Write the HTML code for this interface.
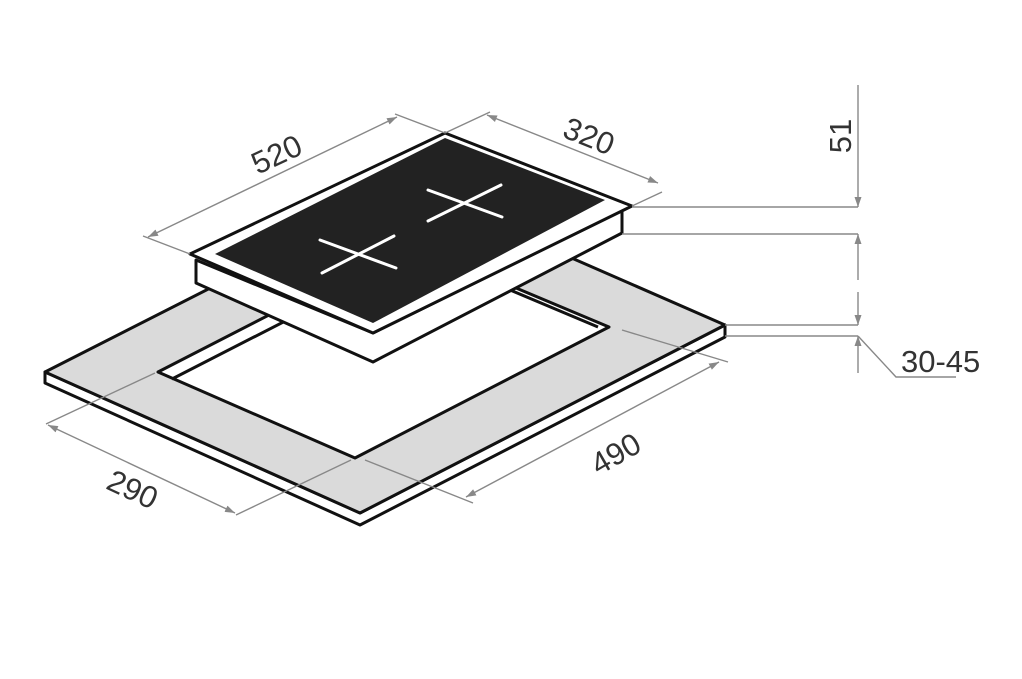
<!DOCTYPE html>
<html><head><meta charset="utf-8"><style>html,body{margin:0;padding:0;background:#fff}svg{display:block}</style></head>
<body>
<svg width="1022" height="679" viewBox="0 0 1022 679" xmlns="http://www.w3.org/2000/svg" font-family="Liberation Sans, sans-serif">
<defs>
<marker id="a" viewBox="0 0 10 10" refX="10" refY="5" markerWidth="10" markerHeight="10" orient="auto-start-reverse" markerUnits="userSpaceOnUse"><path d="M0,1.5 L10,5 L0,8.5 z" fill="#888"/></marker>
</defs>
<polygon points="45,372 360,513 725,325 725,337 360,525 45,383" fill="#fff" stroke="#111" stroke-width="3" stroke-linejoin="round"/>
<polygon points="45,372 409,187 725,325 360,513" fill="#dadada" stroke="#111" stroke-width="3" stroke-linejoin="round"/>
<polygon points="158,372 409,243 609,327 355,458" fill="#fff" stroke="#111" stroke-width="3" stroke-linejoin="round"/>
<polyline points="172,379 420,252 598,327" fill="none" stroke="#111" stroke-width="3"/>
<polygon points="196,260 196,283 373,362 622,233 622,210 373,333" fill="#fff" stroke="#111" stroke-width="3" stroke-linejoin="round"/>
<polygon points="190,254 445,133 632,206 373,333" fill="#fff" stroke="#111" stroke-width="3" stroke-linejoin="round"/>
<polygon points="215,254 445,138 605,200 373,323" fill="#222"/>
<g stroke="#fff" stroke-width="3" stroke-linecap="round">
<line x1="428" y1="190" x2="502" y2="217"/><line x1="428" y1="221" x2="501" y2="185"/>
<line x1="320" y1="240" x2="396" y2="268"/><line x1="322" y1="273" x2="394" y2="236"/>
</g>
<g stroke="#888" stroke-width="1.4" fill="none">
<line x1="190" y1="254" x2="143" y2="236"/><line x1="445" y1="133" x2="395" y2="114"/>
<line x1="148" y1="237" x2="397" y2="117" marker-start="url(#a)" marker-end="url(#a)"/>
<line x1="445" y1="133" x2="490" y2="112"/><line x1="632" y1="206" x2="662" y2="192"/>
<line x1="487" y1="115" x2="658" y2="183" marker-start="url(#a)" marker-end="url(#a)"/>
<line x1="632" y1="207" x2="858" y2="207"/><line x1="622" y1="234" x2="858" y2="234"/>
<line x1="858" y1="85" x2="858" y2="207" marker-end="url(#a)"/>
<line x1="858" y1="280" x2="858" y2="234" marker-end="url(#a)"/>
<line x1="725" y1="325" x2="858" y2="325"/><line x1="725" y1="336" x2="858" y2="336"/>
<line x1="858" y1="292" x2="858" y2="325" marker-end="url(#a)"/>
<line x1="858" y1="373" x2="858" y2="336" marker-end="url(#a)"/>
<polyline points="858,336 896,377 956,377"/>
<line x1="155" y1="373" x2="46" y2="424"/><line x1="351" y1="460" x2="236" y2="515"/>
<line x1="48" y1="425" x2="235" y2="513" marker-start="url(#a)" marker-end="url(#a)"/>
<line x1="622" y1="330" x2="728" y2="362"/><line x1="365" y1="460" x2="473" y2="503"/>
<line x1="719" y1="362" x2="466" y2="497" marker-start="url(#a)" marker-end="url(#a)"/>
</g>
<g fill="#333" font-size="31">
<text x="0" y="0" transform="translate(281,164) rotate(-25)" text-anchor="middle">520</text>
<text x="0" y="0" transform="translate(585,146) rotate(22)" text-anchor="middle">320</text>
<text x="0" y="0" transform="translate(851,136) rotate(-90)" text-anchor="middle">51</text>
<text x="901" y="372">30-45</text>
<text x="0" y="0" transform="translate(128,499) rotate(25)" text-anchor="middle">290</text>
<text x="0" y="0" transform="translate(621,463) rotate(-30)" text-anchor="middle">490</text>
</g>
</svg>
</body></html>
